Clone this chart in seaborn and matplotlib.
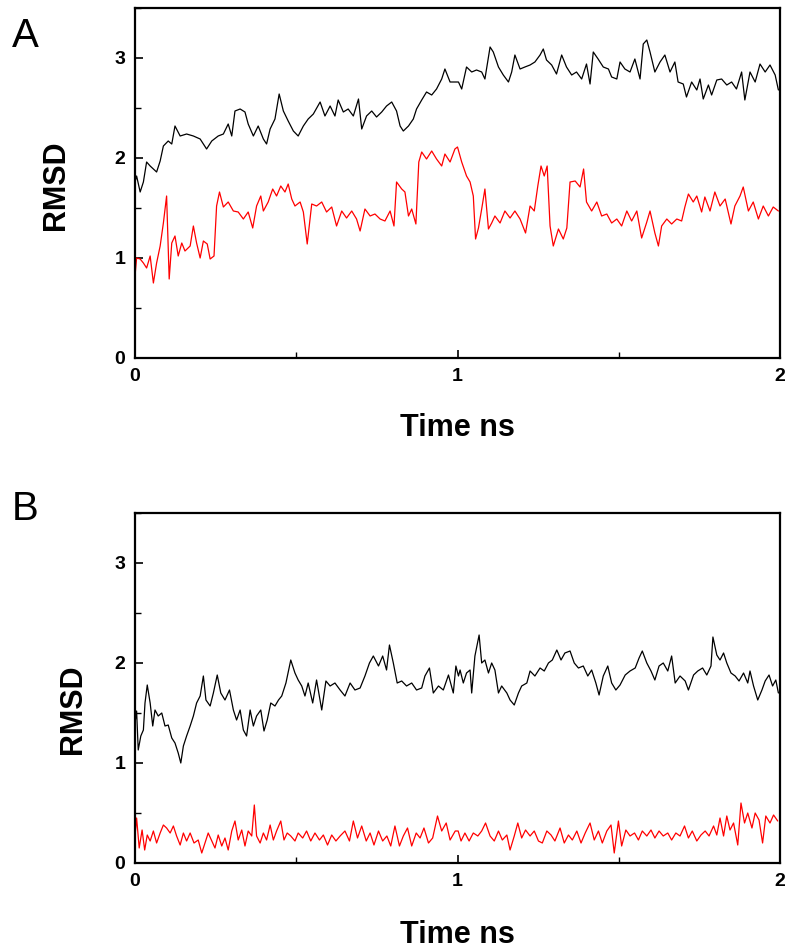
import matplotlib
matplotlib.use("Agg")
import matplotlib.pyplot as plt
import seaborn as sns
import numpy as np
from matplotlib.ticker import MultipleLocator

# RMSD traces, (time ns, RMSD)
black_a = [
    (0.000, 1.76), (0.005, 1.82), (0.016, 1.66), (0.026, 1.76), (0.036, 1.96), (0.047, 1.92),
    (0.057, 1.89), (0.067, 1.86), (0.078, 1.97), (0.088, 2.12), (0.103, 2.17), (0.114, 2.14),
    (0.124, 2.32), (0.140, 2.22), (0.160, 2.24), (0.181, 2.22), (0.202, 2.19), (0.212, 2.14),
    (0.222, 2.09), (0.238, 2.17), (0.258, 2.22), (0.274, 2.24), (0.289, 2.34), (0.300, 2.22),
    (0.310, 2.47), (0.326, 2.49), (0.341, 2.46), (0.351, 2.34), (0.367, 2.22), (0.382, 2.32),
    (0.398, 2.19), (0.408, 2.14), (0.419, 2.29), (0.434, 2.39), (0.447, 2.64), (0.460, 2.47),
    (0.475, 2.37), (0.491, 2.27), (0.506, 2.22), (0.522, 2.32), (0.537, 2.39), (0.553, 2.44),
    (0.574, 2.56), (0.589, 2.42), (0.605, 2.52), (0.620, 2.42), (0.630, 2.58), (0.646, 2.46),
    (0.661, 2.49), (0.677, 2.42), (0.693, 2.59), (0.703, 2.29), (0.718, 2.42), (0.734, 2.47),
    (0.749, 2.41), (0.765, 2.46), (0.780, 2.52), (0.796, 2.56), (0.811, 2.47), (0.822, 2.32),
    (0.832, 2.27), (0.848, 2.32), (0.863, 2.39), (0.873, 2.49), (0.889, 2.58), (0.904, 2.66),
    (0.920, 2.63), (0.935, 2.69), (0.951, 2.79), (0.961, 2.89), (0.977, 2.76), (0.992, 2.76),
    (1.003, 2.76), (1.013, 2.69), (1.028, 2.91), (1.044, 2.86), (1.059, 2.88), (1.075, 2.86),
    (1.085, 2.79), (1.101, 3.11), (1.111, 3.06), (1.127, 2.91), (1.142, 2.83), (1.158, 2.76),
    (1.168, 2.86), (1.178, 3.03), (1.194, 2.89), (1.209, 2.91), (1.225, 2.93), (1.240, 2.96),
    (1.256, 3.03), (1.266, 3.09), (1.276, 2.98), (1.292, 2.93), (1.307, 2.84), (1.323, 3.03),
    (1.338, 2.91), (1.354, 2.83), (1.369, 2.86), (1.385, 2.79), (1.400, 2.94), (1.411, 2.74),
    (1.421, 3.06), (1.436, 2.99), (1.452, 2.91), (1.468, 2.89), (1.478, 2.81), (1.494, 2.79),
    (1.504, 2.96), (1.519, 2.89), (1.535, 2.86), (1.550, 2.99), (1.566, 2.79), (1.576, 3.14),
    (1.587, 3.18), (1.597, 3.06), (1.612, 2.86), (1.628, 2.96), (1.643, 3.03), (1.659, 2.86),
    (1.674, 2.96), (1.684, 2.76), (1.700, 2.74), (1.710, 2.61), (1.726, 2.76), (1.742, 2.68),
    (1.752, 2.79), (1.762, 2.59), (1.778, 2.73), (1.788, 2.63), (1.804, 2.78), (1.819, 2.79),
    (1.835, 2.73), (1.850, 2.76), (1.865, 2.69), (1.881, 2.86), (1.891, 2.58), (1.907, 2.86),
    (1.923, 2.76), (1.938, 2.94), (1.954, 2.86), (1.969, 2.93), (1.985, 2.83), (1.995, 2.68),
]

red_a = [
    (0.000, 0.82), (0.005, 1.00), (0.016, 0.99), (0.026, 0.95), (0.036, 0.90), (0.047, 1.02),
    (0.057, 0.75), (0.067, 0.95), (0.078, 1.12), (0.088, 1.35), (0.098, 1.62), (0.106, 0.79),
    (0.114, 1.15), (0.124, 1.22), (0.134, 1.02), (0.145, 1.15), (0.155, 1.07), (0.171, 1.12),
    (0.181, 1.32), (0.191, 1.15), (0.202, 1.00), (0.212, 1.17), (0.224, 1.14), (0.233, 0.99),
    (0.245, 1.02), (0.253, 1.52), (0.262, 1.66), (0.274, 1.51), (0.289, 1.56), (0.305, 1.47),
    (0.320, 1.46), (0.336, 1.39), (0.351, 1.46), (0.365, 1.30), (0.377, 1.52), (0.390, 1.62),
    (0.398, 1.47), (0.413, 1.56), (0.427, 1.69), (0.439, 1.62), (0.452, 1.72), (0.465, 1.66),
    (0.475, 1.74), (0.486, 1.59), (0.496, 1.52), (0.512, 1.56), (0.522, 1.46), (0.534, 1.14),
    (0.548, 1.54), (0.563, 1.52), (0.579, 1.56), (0.594, 1.46), (0.610, 1.51), (0.625, 1.32),
    (0.641, 1.47), (0.656, 1.40), (0.672, 1.47), (0.687, 1.39), (0.698, 1.27), (0.713, 1.49),
    (0.729, 1.42), (0.744, 1.44), (0.760, 1.39), (0.775, 1.37), (0.791, 1.47), (0.803, 1.32),
    (0.811, 1.76), (0.827, 1.69), (0.837, 1.66), (0.848, 1.42), (0.858, 1.49), (0.871, 1.34),
    (0.880, 1.96), (0.889, 2.06), (0.904, 1.99), (0.920, 2.07), (0.935, 1.99), (0.951, 1.92),
    (0.961, 2.04), (0.977, 1.96), (0.992, 2.09), (1.000, 2.11), (1.013, 1.96), (1.028, 1.82),
    (1.039, 1.76), (1.049, 1.62), (1.056, 1.19), (1.065, 1.30), (1.075, 1.49), (1.085, 1.69),
    (1.096, 1.29), (1.106, 1.35), (1.116, 1.42), (1.132, 1.35), (1.147, 1.47), (1.163, 1.40),
    (1.178, 1.47), (1.194, 1.39), (1.211, 1.25), (1.225, 1.52), (1.238, 1.47), (1.249, 1.72),
    (1.259, 1.92), (1.269, 1.82), (1.278, 1.92), (1.287, 1.32), (1.297, 1.12), (1.313, 1.29),
    (1.328, 1.19), (1.339, 1.30), (1.349, 1.76), (1.365, 1.77), (1.380, 1.71), (1.391, 1.89),
    (1.400, 1.56), (1.416, 1.47), (1.432, 1.56), (1.447, 1.42), (1.463, 1.44), (1.478, 1.35),
    (1.494, 1.39), (1.509, 1.32), (1.525, 1.47), (1.540, 1.37), (1.556, 1.47), (1.571, 1.20),
    (1.586, 1.35), (1.597, 1.47), (1.612, 1.25), (1.623, 1.12), (1.633, 1.32), (1.649, 1.39),
    (1.664, 1.34), (1.680, 1.39), (1.695, 1.37), (1.705, 1.51), (1.716, 1.64), (1.731, 1.56),
    (1.742, 1.62), (1.757, 1.46), (1.767, 1.61), (1.783, 1.47), (1.798, 1.66), (1.814, 1.52),
    (1.830, 1.59), (1.848, 1.34), (1.860, 1.52), (1.876, 1.62), (1.886, 1.71), (1.902, 1.47),
    (1.917, 1.56), (1.933, 1.39), (1.948, 1.52), (1.964, 1.42), (1.979, 1.51), (1.995, 1.47),
]

black_b = [
    (0.000, 1.40), (0.005, 1.52), (0.010, 1.13), (0.018, 1.27), (0.026, 1.33), (0.031, 1.60),
    (0.038, 1.78), (0.047, 1.60), (0.055, 1.37), (0.062, 1.53), (0.072, 1.47), (0.083, 1.50),
    (0.093, 1.37), (0.103, 1.38), (0.114, 1.25), (0.124, 1.20), (0.134, 1.10), (0.142, 1.00),
    (0.150, 1.17), (0.160, 1.27), (0.171, 1.37), (0.181, 1.47), (0.191, 1.60), (0.202, 1.67),
    (0.212, 1.87), (0.220, 1.63), (0.233, 1.57), (0.243, 1.70), (0.255, 1.88), (0.266, 1.70),
    (0.279, 1.63), (0.293, 1.73), (0.305, 1.53), (0.315, 1.43), (0.326, 1.53), (0.336, 1.33),
    (0.346, 1.27), (0.357, 1.53), (0.367, 1.37), (0.377, 1.47), (0.390, 1.53), (0.400, 1.32),
    (0.410, 1.43), (0.421, 1.60), (0.434, 1.57), (0.445, 1.63), (0.455, 1.67), (0.468, 1.80),
    (0.483, 2.03), (0.496, 1.90), (0.506, 1.83), (0.517, 1.77), (0.527, 1.67), (0.537, 1.80),
    (0.551, 1.60), (0.563, 1.83), (0.579, 1.53), (0.592, 1.82), (0.605, 1.77), (0.620, 1.80),
    (0.636, 1.73), (0.651, 1.67), (0.667, 1.80), (0.682, 1.73), (0.698, 1.75), (0.713, 1.87),
    (0.727, 2.00), (0.739, 2.07), (0.755, 1.97), (0.768, 2.07), (0.780, 1.93), (0.789, 2.18),
    (0.801, 2.00), (0.813, 1.80), (0.827, 1.82), (0.842, 1.77), (0.858, 1.80), (0.873, 1.73),
    (0.889, 1.75), (0.899, 1.87), (0.913, 1.95), (0.925, 1.70), (0.941, 1.77), (0.956, 1.73),
    (0.972, 1.88), (0.987, 1.70), (0.995, 1.97), (1.003, 1.87), (1.008, 1.93), (1.018, 1.80),
    (1.028, 1.90), (1.039, 1.93), (1.044, 1.70), (1.054, 2.07), (1.067, 2.28), (1.075, 2.00),
    (1.085, 2.03), (1.096, 1.90), (1.106, 2.00), (1.116, 1.93), (1.127, 1.70), (1.137, 1.77),
    (1.153, 1.70), (1.163, 1.63), (1.176, 1.58), (1.189, 1.70), (1.199, 1.77), (1.215, 1.80),
    (1.225, 1.92), (1.240, 1.87), (1.256, 1.95), (1.269, 1.92), (1.282, 2.00), (1.294, 2.03),
    (1.308, 2.13), (1.321, 2.03), (1.333, 2.10), (1.349, 2.12), (1.362, 2.00), (1.375, 1.95),
    (1.390, 1.97), (1.404, 1.87), (1.416, 1.93), (1.429, 1.80), (1.439, 1.68), (1.452, 1.87),
    (1.466, 1.97), (1.478, 1.80), (1.491, 1.73), (1.504, 1.78), (1.520, 1.88), (1.535, 1.92),
    (1.551, 1.95), (1.563, 2.05), (1.573, 2.12), (1.587, 2.00), (1.600, 1.92), (1.612, 1.83),
    (1.625, 1.97), (1.638, 2.00), (1.652, 1.92), (1.664, 2.07), (1.675, 1.80), (1.690, 1.87),
    (1.706, 1.82), (1.716, 1.73), (1.732, 1.88), (1.745, 1.92), (1.760, 1.95), (1.773, 1.88),
    (1.786, 1.97), (1.792, 2.26), (1.804, 2.08), (1.814, 2.03), (1.825, 2.10), (1.835, 2.00),
    (1.848, 1.90), (1.861, 1.87), (1.873, 1.82), (1.887, 1.90), (1.900, 1.80), (1.907, 1.92),
    (1.918, 1.77), (1.931, 1.63), (1.944, 1.73), (1.954, 1.82), (1.966, 1.88), (1.977, 1.77),
    (1.987, 1.83), (1.995, 1.70),
]

red_b = [
    (0.000, 0.27), (0.005, 0.45), (0.013, 0.15), (0.022, 0.33), (0.030, 0.13), (0.038, 0.28),
    (0.047, 0.22), (0.057, 0.32), (0.067, 0.20), (0.078, 0.30), (0.088, 0.38), (0.098, 0.35),
    (0.109, 0.30), (0.119, 0.37), (0.129, 0.27), (0.140, 0.18), (0.150, 0.30), (0.160, 0.22),
    (0.171, 0.30), (0.183, 0.20), (0.196, 0.23), (0.207, 0.10), (0.217, 0.20), (0.227, 0.30),
    (0.238, 0.22), (0.248, 0.15), (0.258, 0.28), (0.269, 0.17), (0.279, 0.25), (0.289, 0.13),
    (0.300, 0.32), (0.310, 0.42), (0.320, 0.23), (0.331, 0.33), (0.341, 0.17), (0.351, 0.32),
    (0.362, 0.27), (0.370, 0.58), (0.377, 0.27), (0.388, 0.20), (0.398, 0.30), (0.408, 0.23),
    (0.419, 0.38), (0.429, 0.23), (0.439, 0.32), (0.452, 0.42), (0.462, 0.23), (0.472, 0.30),
    (0.483, 0.27), (0.496, 0.22), (0.506, 0.30), (0.520, 0.25), (0.532, 0.32), (0.545, 0.22),
    (0.558, 0.30), (0.572, 0.23), (0.584, 0.28), (0.597, 0.18), (0.610, 0.28), (0.623, 0.22),
    (0.636, 0.27), (0.651, 0.32), (0.665, 0.22), (0.677, 0.42), (0.690, 0.25), (0.703, 0.37),
    (0.717, 0.22), (0.729, 0.30), (0.741, 0.18), (0.755, 0.32), (0.768, 0.22), (0.781, 0.27),
    (0.793, 0.17), (0.806, 0.37), (0.820, 0.17), (0.832, 0.27), (0.845, 0.35), (0.858, 0.17),
    (0.872, 0.30), (0.884, 0.25), (0.896, 0.35), (0.910, 0.20), (0.923, 0.25), (0.938, 0.47),
    (0.951, 0.32), (0.965, 0.40), (0.977, 0.23), (0.993, 0.32), (1.002, 0.32), (1.011, 0.22),
    (1.023, 0.30), (1.036, 0.22), (1.049, 0.30), (1.063, 0.27), (1.075, 0.32), (1.087, 0.40),
    (1.101, 0.27), (1.114, 0.22), (1.127, 0.32), (1.139, 0.23), (1.153, 0.28), (1.163, 0.13),
    (1.176, 0.27), (1.187, 0.40), (1.199, 0.25), (1.211, 0.33), (1.225, 0.27), (1.238, 0.32),
    (1.251, 0.22), (1.263, 0.20), (1.277, 0.32), (1.290, 0.28), (1.302, 0.22), (1.318, 0.35),
    (1.331, 0.20), (1.344, 0.28), (1.356, 0.23), (1.370, 0.32), (1.383, 0.20), (1.396, 0.30),
    (1.411, 0.40), (1.424, 0.23), (1.437, 0.32), (1.449, 0.20), (1.463, 0.32), (1.476, 0.38),
    (1.486, 0.10), (1.499, 0.42), (1.509, 0.17), (1.522, 0.33), (1.535, 0.27), (1.549, 0.30),
    (1.561, 0.23), (1.573, 0.32), (1.587, 0.27), (1.600, 0.33), (1.612, 0.25), (1.625, 0.32),
    (1.638, 0.27), (1.652, 0.30), (1.664, 0.23), (1.677, 0.30), (1.690, 0.27), (1.704, 0.37),
    (1.716, 0.25), (1.728, 0.32), (1.742, 0.22), (1.755, 0.28), (1.768, 0.32), (1.780, 0.27),
    (1.794, 0.37), (1.804, 0.28), (1.814, 0.45), (1.825, 0.27), (1.835, 0.47), (1.845, 0.33),
    (1.856, 0.40), (1.869, 0.18), (1.879, 0.60), (1.890, 0.40), (1.900, 0.50), (1.913, 0.35),
    (1.923, 0.50), (1.935, 0.43), (1.946, 0.20), (1.956, 0.47), (1.969, 0.40), (1.980, 0.48),
    (1.993, 0.42),
]

panel_labels = ["A", "B"]
x_ticks = [0, 1, 2]
y_ticks = [0, 1, 2, 3]

sns.set_style("ticks")
plt.rcParams["font.family"] = ["Liberation Sans", "DejaVu Sans"]
plt.rcParams.update({"text.color": "black", "axes.labelcolor": "black",
                     "xtick.color": "black", "ytick.color": "black"})

fig = plt.figure(figsize=(8, 9.5), dpi=100)
ax_a = fig.add_axes([0.16875, 0.62316, 0.80625, 0.36842])
ax_b = fig.add_axes([0.16875, 0.09158, 0.80625, 0.36842])

panels = [
    (ax_a, black_a, red_a, (-0.099, 0.494), -0.157),
    (ax_b, black_b, red_b, (-0.073, 0.44), -0.163),
]

for ax, blk, red, ylab_pos, xlab_y in panels:
    bt, bv = np.array(blk).T
    rt, rv = np.array(red).T
    sns.lineplot(x=bt, y=bv, ax=ax, color="black", linewidth=0.9, estimator=None, sort=False)
    sns.lineplot(x=rt, y=rv, ax=ax, color="#ff0000", linewidth=0.9, estimator=None, sort=False)

    ax.set_xlim(0, 2)
    ax.set_ylim(0, 3.5)
    ax.set_xticks(x_ticks)
    ax.set_yticks(y_ticks)
    ax.xaxis.set_minor_locator(MultipleLocator(0.5))
    ax.yaxis.set_minor_locator(MultipleLocator(0.5))
    ax.tick_params(which="major", direction="in", length=6, width=1.2, color="black",
                   labelcolor="black", labelsize=14, pad=7)
    ax.tick_params(which="minor", direction="in", length=4, width=1.0, color="black")
    for lab in ax.get_xticklabels() + ax.get_yticklabels():
        lab.set_fontweight("bold")
    for sp in ax.spines.values():
        sp.set_visible(True)
        sp.set_linewidth(1.6)
        sp.set_color("black")

    ax.set_xlabel("Time ns", fontsize=22, fontweight="bold", color="black")
    ax.set_ylabel("RMSD", fontsize=22, fontweight="bold", color="black")
    ax.yaxis.set_label_coords(*ylab_pos)
    ax.xaxis.set_label_coords(0.5, xlab_y)

fig.text(12 / 800, 1 - 47 / 950, panel_labels[0], fontsize=29, va="baseline", ha="left")
fig.text(12 / 800, 1 - 520 / 950, panel_labels[1], fontsize=29, va="baseline", ha="left")

fig.savefig("out.png", dpi=100)
plt.close(fig)
